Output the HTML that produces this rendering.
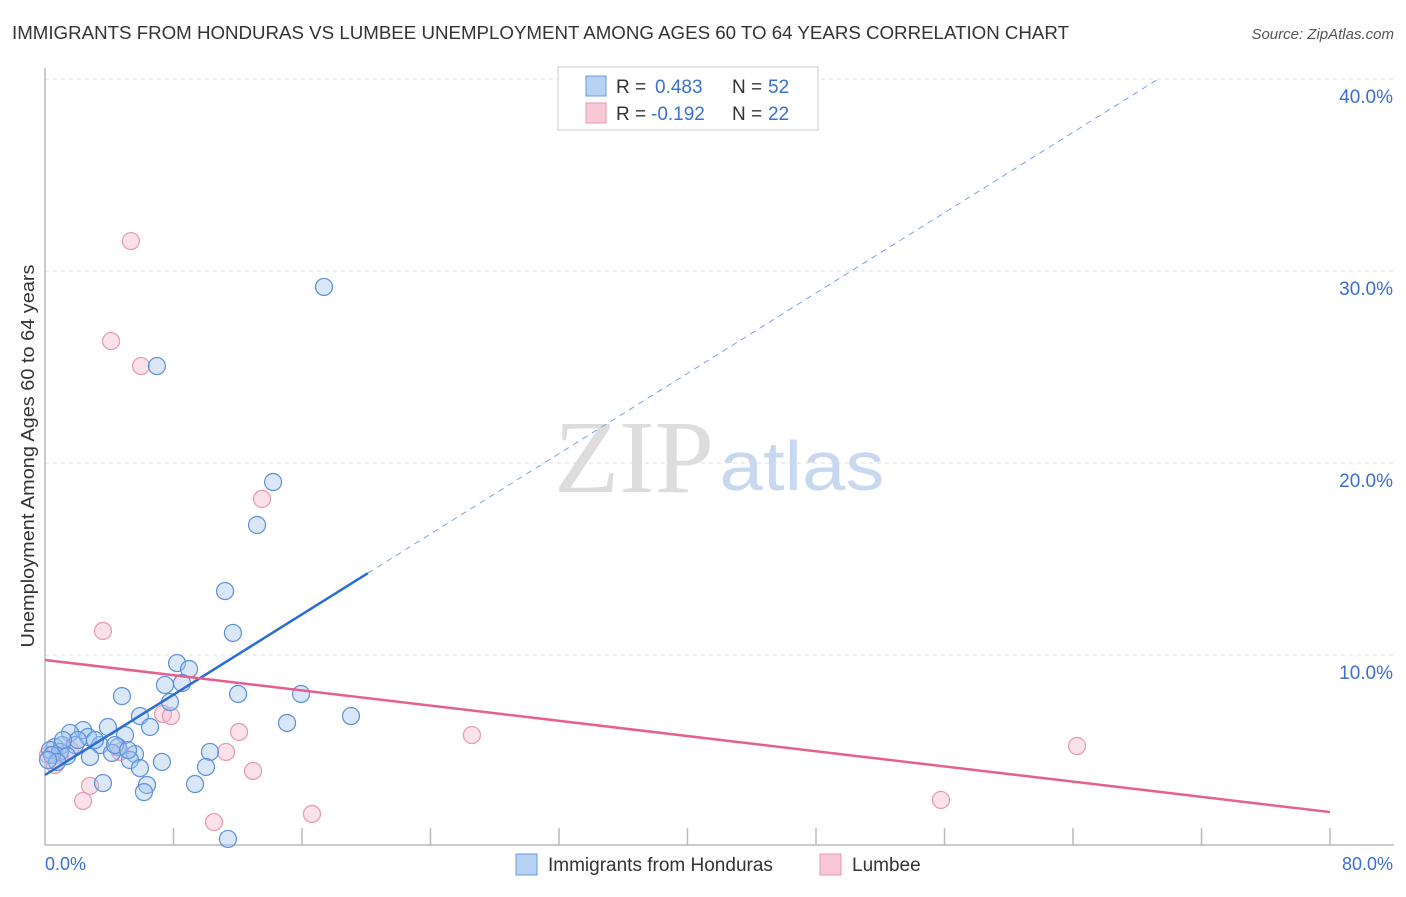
<!DOCTYPE html>
<html><head><meta charset="utf-8"><style>
body{margin:0;background:#fff;font-family:"Liberation Sans",sans-serif}
</style></head><body>
<svg width="1406" height="892" xmlns="http://www.w3.org/2000/svg">
<text x="12" y="39" font-size="18" fill="#333" textLength="1057" lengthAdjust="spacingAndGlyphs">IMMIGRANTS FROM HONDURAS VS LUMBEE UNEMPLOYMENT AMONG AGES 60 TO 64 YEARS CORRELATION CHART</text>
<text x="1394" y="39" font-size="15" fill="#555" font-style="italic" text-anchor="end">Source: ZipAtlas.com</text>
<text x="634" y="492" font-size="104" fill="#ddd" font-family="Liberation Serif,serif" text-anchor="middle" textLength="160" lengthAdjust="spacingAndGlyphs">ZIP</text>
<text x="802" y="490" font-size="70" fill="#c8d8f0" text-anchor="middle" textLength="165" lengthAdjust="spacingAndGlyphs">atlas</text>
<g id="grid"></g><g id="axes"></g><g id="pts"></g><g id="lines"></g>
<text transform="translate(34,456) rotate(-90)" font-size="18" fill="#333" text-anchor="middle" textLength="383" lengthAdjust="spacingAndGlyphs">Unemployment Among Ages 60 to 64 years</text>
<text x="45" y="870" font-size="18" fill="#3a70d0">0.0%</text>
<text x="1393" y="870" font-size="18" fill="#3a70d0" text-anchor="end">80.0%</text>
<g>
<rect x="558" y="67" width="260" height="63" fill="#fff" stroke="#ccc"/>
<rect x="586" y="76" width="20" height="20" fill="#b8d2f4" stroke="#6a9ae0"/>
<rect x="586" y="103" width="20" height="20" fill="#f8c8d6" stroke="#e898b0"/>
<text x="616" y="93" font-size="19" fill="#333">R =</text>
<text x="655" y="93" font-size="19" fill="#3a70d0">0.483</text>
<text x="732" y="93" font-size="19" fill="#333">N =</text>
<text x="768" y="93" font-size="19" fill="#3a70d0">52</text>
<text x="616" y="120" font-size="19" fill="#333">R =</text>
<text x="651" y="120" font-size="19" fill="#3a70d0">-0.192</text>
<text x="732" y="120" font-size="19" fill="#333">N =</text>
<text x="768" y="120" font-size="19" fill="#3a70d0">22</text>
</g>
<g>
<rect x="516" y="854" width="21" height="21" fill="#b8d2f4" stroke="#6a9ae0"/>
<text x="548" y="871" font-size="19" fill="#333">Immigrants from Honduras</text>
<rect x="820" y="854" width="21" height="21" fill="#f8c8d6" stroke="#e898b0"/>
<text x="852" y="871" font-size="19" fill="#333">Lumbee</text>
</g>
</svg>
<script>
const yTicks=[10,20,30,40];
const blueX=[17.37,6.97,14.20,13.20,11.21,11.70,8.22,8.97,7.47,8.53,4.79,12.02,15.94,7.78,5.91,19.05,15.07,3.92,6.54,4.98,2.37,1.56,2.68,0.62,1.06,1.87,0.31,0.93,3.42,4.54,5.60,4.17,5.29,2.80,1.37,0.44,7.28,10.27,5.91,10.02,3.61,6.35,6.16,9.34,11.39,2.05,3.11,0.75,0.19,4.36,5.17,1.12];
const blueY=[29.17,25.05,19.01,16.77,13.33,11.15,9.58,9.27,8.44,8.54,7.86,7.97,7.97,7.55,6.82,6.82,6.46,6.25,6.25,5.83,6.09,5.94,5.73,5.21,5.31,5.31,5.05,4.95,5.31,5.21,4.84,4.90,4.53,4.69,4.74,4.79,4.43,4.95,4.11,4.17,3.33,3.23,2.86,3.28,0.42,5.57,5.57,4.43,4.53,5.31,5.05,5.57];
const pinkX=[5.35,4.11,5.98,13.51,3.61,7.35,7.84,12.08,26.58,11.27,4.67,12.95,0.93,0.62,2.80,2.37,10.52,16.62,55.78,64.25,0.19,1.56];
const pinkY=[31.56,26.35,25.05,18.13,11.25,6.93,6.82,5.99,5.83,4.95,4.95,3.96,4.79,4.27,3.18,2.40,1.30,1.72,2.45,5.26,4.79,5.05];
const blueTrend=[3.75,0.523];
const pinkTrend=[9.74,-0.099];
const NS="http://www.w3.org/2000/svg";
const sx=v=>45+v*1285/80, sy=v=>847-v*19.2;
function mk(t,a,p){const e=document.createElementNS(NS,t);for(const k in a)e.setAttribute(k,a[k]);p.appendChild(e);return e;}
const grid=document.getElementById('grid');
yTicks.forEach(t=>{
 const l=mk('line',{x1:45,x2:1394,y1:sy(t),y2:sy(t),stroke:'#ddd','stroke-dasharray':'4,4'},grid);
 
 
 const tx=mk('text',{x:1393,y:sy(t)+24,'font-size':19,fill:'#3a70d0','text-anchor':'end'},grid);
 tx.textContent=t.toFixed(1)+'%';
 
 
});
const ax=document.getElementById('axes');
const ya=mk('line',{x1:45,x2:45,y1:68,y2:845,stroke:'#bbb','stroke-width':1.5},ax);


const xa=mk('line',{x1:45,x2:1394,y1:845,y2:845,stroke:'#bbb','stroke-width':1.5},ax);


for(let i=1;i<=10;i++){const t=mk('line',{x1:sx(i*8),x2:sx(i*8),y1:828,y2:845,stroke:'#bbb','stroke-width':1.5},ax);
 
 }
const pts=document.getElementById('pts');
pinkX.forEach((x,i)=>{const c=mk('circle',{cx:sx(x),cy:sy(pinkY[i]),r:8.5,fill:'rgba(245,180,200,0.4)',stroke:'#e898b0','stroke-width':1.2},pts);
 
 });
blueX.forEach((x,i)=>{const c=mk('circle',{cx:sx(x),cy:sy(blueY[i]),r:8.5,fill:'rgba(160,196,240,0.4)',stroke:'#5b8fdc','stroke-width':1.2},pts);
 
 });
const ln=document.getElementById('lines');
const bx1=20.1,bx2=(40-blueTrend[0])/blueTrend[1];
const b1=mk('line',{x1:sx(0),y1:sy(blueTrend[0]),x2:sx(bx1),y2:sy(blueTrend[0]+blueTrend[1]*bx1),stroke:'#2a6fd6','stroke-width':2.5},ln);


const b2=mk('line',{x1:sx(bx1),y1:sy(blueTrend[0]+blueTrend[1]*bx1),x2:sx(bx2),y2:sy(40),stroke:'#7aa4e4','stroke-width':1,'stroke-dasharray':'6,5'},ln);


const p1=mk('line',{x1:sx(0),y1:sy(pinkTrend[0]),x2:sx(80),y2:sy(pinkTrend[0]+pinkTrend[1]*80),stroke:'#e46090','stroke-width':2.5},ln);


</script>
</body></html>
